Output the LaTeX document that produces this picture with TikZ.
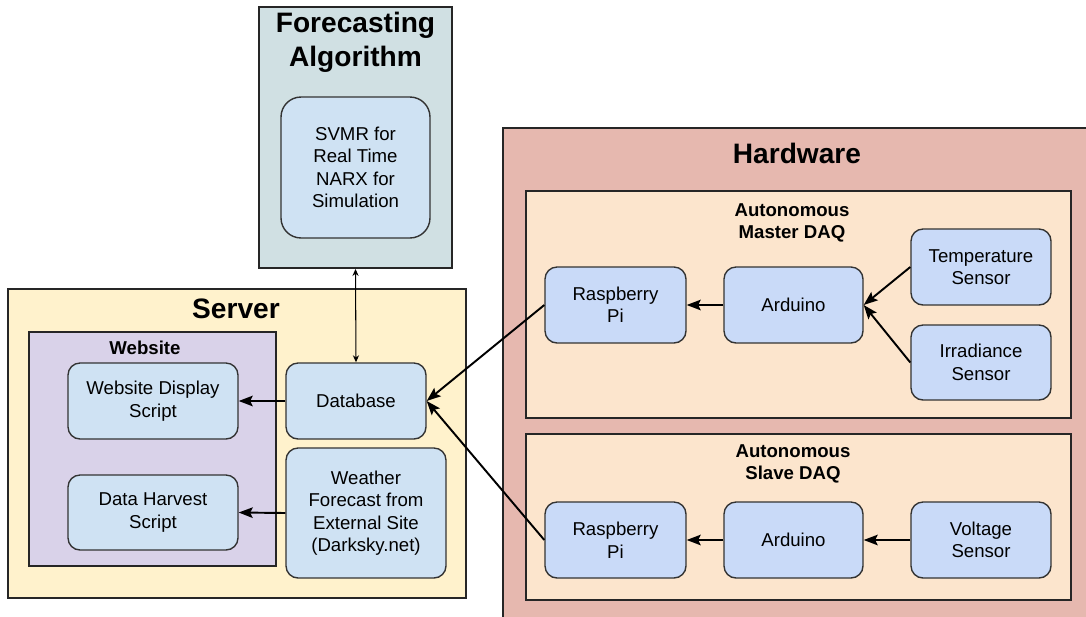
\documentclass[tikz,border=0pt]{standalone}
\usepackage{fontspec}
\setmainfont{Liberation Sans}
\usepackage{xcolor}
\usetikzlibrary{arrows.meta}

\definecolor{algofill}{HTML}{D0E0E3}
\definecolor{softblue}{HTML}{CFE2F3}
\definecolor{hwblue}{HTML}{C9DAF8}
\definecolor{serverfill}{HTML}{FFF2CC}
\definecolor{webfill}{HTML}{D9D2E9}
\definecolor{hwfill}{HTML}{E6B8AF}
\definecolor{daqfill}{HTML}{FCE5CD}

\tikzset{
  group/.style={draw=black!85, line width=1.1pt, inner sep=0pt},
  box/.style={draw=black!80, line width=0.8pt, rounded corners=0.24cm, inner sep=0pt,
    align=center, font=\fontsize{10.6}{12.8}\selectfont},
  bigtitle/.style={font=\fontsize{16}{19.3}\selectfont\bfseries, align=center},
  smalltitle/.style={font=\fontsize{10.6}{12.8}\selectfont\bfseries, align=center},
  flow/.style={-{Stealth[length=8pt,width=6pt,inset=1.5pt]}, line width=1.1pt},
  link/.style={{Stealth[length=4pt,width=3.5pt]}-{Stealth[length=4pt,width=3.5pt]}, line width=0.6pt},
}

\begin{document}
\begin{tikzpicture}[x=0.02cm, y=-0.02cm]
        % page is exactly the frame; hardware box runs past it
        \useasboundingbox (0,0) rectangle (1086,616);
        \clip (0,0) rectangle (1086,616);

        % Forecasting algorithm on top
        \node[group, fill=algofill, minimum width=3.86cm, minimum height=5.22cm] (algo) at (355.5,137.5) {};
        \node[bigtitle] (algotitle) at (355.5,42) {Forecasting\\Algorithm};
        \node[box, fill=softblue, rounded corners=0.4cm, minimum width=2.98cm, minimum height=2.82cm] (svmr) at (355.5,167.5)
            {SVMR for\\Real Time\\NARX for\\Simulation};

        % Server on left
        \node[group, fill=serverfill, minimum width=9.16cm, minimum height=6.18cm] (server) at (237,443.5) {};
        \node[bigtitle] (servertitle) at (236,309) {Server};
        \node[group, fill=webfill, minimum width=4.94cm, minimum height=4.68cm] (website) at (152.5,449) {};
        \node[smalltitle] (webtitle) at (145,348) {Website};

        \node[box, fill=softblue, minimum width=3.4cm, minimum height=1.52cm] (display) at (153,401) {Website Display\\Script};
        \node[box, fill=softblue, minimum width=3.4cm, minimum height=1.5cm] (harvest) at (153,512.5) {Data Harvest\\Script};
        \node[box, fill=softblue, minimum width=2.8cm, minimum height=1.52cm] (db) at (356,401) {Database};
        \node[box, fill=softblue, minimum width=3.2cm, minimum height=2.6cm] (weather) at (366,513)
            {Weather\\Forecast from\\External Site\\(Darksky.net)};

        % Hardware on right
        \node[group, fill=hwfill, minimum width=14cm, minimum height=9.94cm] (hardware) at (853,376.5) {};
        \node[bigtitle] (hwtitle) at (797,153) {Hardware};

        \node[group, fill=daqfill, minimum width=10.9cm, minimum height=4.54cm] (master) at (798.5,304.5) {};
        \node[smalltitle] (mastertitle) at (792,223) {Autonomous\\Master DAQ};
        \node[box, fill=hwblue, minimum width=2.82cm, minimum height=1.52cm] (piM) at (615.5,305) {Raspberry\\Pi};
        \node[box, fill=hwblue, minimum width=2.78cm, minimum height=1.52cm] (ardM) at (793.5,305) {Arduino};
        \node[box, fill=hwblue, minimum width=2.8cm, minimum height=1.52cm] (temp) at (981,267) {Temperature\\Sensor};
        \node[box, fill=hwblue, minimum width=2.8cm, minimum height=1.5cm] (irr) at (981,362.5) {Irradiance\\Sensor};

        \node[group, fill=daqfill, minimum width=10.9cm, minimum height=3.32cm] (slave) at (798.5,517) {};
        \node[smalltitle] (slavetitle) at (793,464) {Autonomous\\Slave DAQ};
        \node[box, fill=hwblue, minimum width=2.82cm, minimum height=1.52cm] (piS) at (615.5,540) {Raspberry\\Pi};
        \node[box, fill=hwblue, minimum width=2.78cm, minimum height=1.52cm] (ardS) at (793.5,540) {Arduino};
        \node[box, fill=hwblue, minimum width=2.8cm, minimum height=1.52cm] (volt) at (981,540) {Voltage\\Sensor};

        % Data flow
        \draw[flow] (temp.west) -- (ardM.east);
        \draw[flow] (irr.west) -- (ardM.east);
        \draw[flow] (ardM) -- (piM);
        \draw[flow] (volt) -- (ardS);
        \draw[flow] (ardS) -- (piS);

        \draw[flow] (piM.west) -- (db.east);
        \draw[flow] (piS.west) -- (db.east);
        \draw[flow] (db) -- (display);
        \draw[flow] (weather.west) -- (harvest.east);

        \draw[link] (algo.south) -- (db.north);
\end{tikzpicture}
\end{document}
